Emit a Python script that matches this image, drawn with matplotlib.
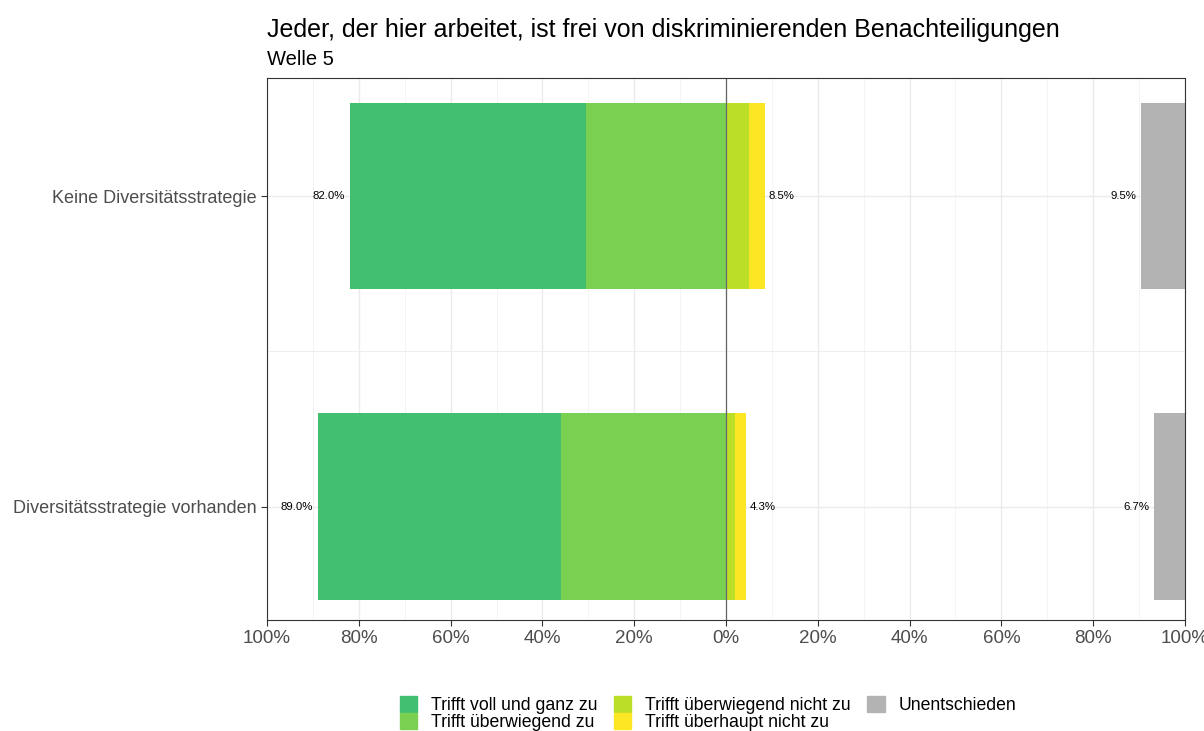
import matplotlib.pyplot as plt
from matplotlib.patches import Patch

plt.rcParams['font.family'] = ['Liberation Sans', 'DejaVu Sans']

# data (percent)
groups = ["Diversitätsstrategie vorhanden", "Keine Diversitätsstrategie"]
voll_zu = [53.1, 51.5]
ueberw_zu = [35.9, 30.5]
ueberw_nicht = [2.0, 5.1]
gar_nicht = [2.3, 3.4]
unentschieden = [6.7, 9.5]
pos_total = [89.0, 82.0]
neg_total = [4.3, 8.5]

colors = {
    "voll": "#43BF71",
    "ueberw": "#7AD151",
    "ueberw_nicht": "#BBDF27",
    "gar_nicht": "#FDE725",
    "neutral": "#B3B3B3",
}

fig = plt.figure(figsize=(12.04, 7.31), dpi=100)
ax = fig.add_axes([0.2218, 0.1518, 0.7624, 0.7415])

y = [1, 2]
h = 0.6
for i, yy in enumerate(y):
    # agreeing side goes left
    ax.barh(yy, -ueberw_zu[i], height=h, color=colors["ueberw"], zorder=2)
    ax.barh(yy, -voll_zu[i], left=-ueberw_zu[i], height=h, color=colors["voll"], zorder=2)
    # disagreeing side goes right
    ax.barh(yy, ueberw_nicht[i], height=h, color=colors["ueberw_nicht"], zorder=2)
    ax.barh(yy, gar_nicht[i], left=ueberw_nicht[i], height=h, color=colors["gar_nicht"], zorder=2)
    # undecided at the right edge
    ax.barh(yy, unentschieden[i], left=100 - unentschieden[i], height=h,
            color=colors["neutral"], zorder=2)

    ax.text(-pos_total[i] - 1.0, yy, f"{pos_total[i]:.1f}%", ha="right", va="center",
            fontsize=8.2, color="black", zorder=3)
    ax.text(neg_total[i] + 0.8, yy, f"{neg_total[i]:.1f}%", ha="left", va="center",
            fontsize=8.2, color="black", zorder=3)
    ax.text(100 - unentschieden[i] - 1.0, yy, f"{unentschieden[i]:.1f}%", ha="right",
            va="center", fontsize=8.2, color="black", zorder=3)

ax.axvline(0, color="#666666", linewidth=0.9, zorder=2.5)

ax.set_xlim(-100, 100)
ax.set_ylim(0.635, 2.38)
ticks = list(range(-100, 101, 20))
ax.set_xticks(ticks)
ax.set_xticklabels([f"{abs(t)}%" for t in ticks])
ax.set_xticks(list(range(-90, 100, 20)), minor=True)
ax.set_yticks(y)
ax.set_yticklabels(groups)

ax.grid(which="major", color="#EBEBEB", linewidth=1.0, zorder=0)
ax.grid(which="minor", axis="x", color="#F2F2F2", linewidth=0.6, zorder=0)
ax.set_axisbelow(True)
ax.tick_params(axis="x", which="major", labelsize=13.5, labelcolor="#4D4D4D",
               color="#333333", length=4, width=0.8)
ax.tick_params(axis="y", which="major", labelsize=13, labelcolor="#4D4D4D",
               color="#333333", length=4, width=0.8)
ax.tick_params(axis="both", which="minor", length=0)
ax.yaxis.set_minor_locator(plt.FixedLocator([1.5]))
ax.grid(which="minor", axis="y", color="#EBEBEB", linewidth=0.6, zorder=0)
for s in ax.spines.values():
    s.set_color("#333333")
    s.set_linewidth(0.8)

fig.text(0.2218, 0.959, "Jeder, der hier arbeitet, ist frei von diskriminierenden Benachteiligungen",
         fontsize=18, ha="left", va="center", color="black")
fig.text(0.2218, 0.919, "Welle 5", fontsize=14.5, ha="left", va="center", color="black")

handles = [
    Patch(color=colors["voll"], label="Trifft voll und ganz zu"),
    Patch(color=colors["ueberw"], label="Trifft überwiegend zu"),
    Patch(color=colors["ueberw_nicht"], label="Trifft überwiegend nicht zu"),
    Patch(color=colors["gar_nicht"], label="Trifft überhaupt nicht zu"),
    Patch(color=colors["neutral"], label="Unentschieden"),
]
fig.legend(handles=handles, ncol=3, loc="center", bbox_to_anchor=(0.588, 0.024),
           frameon=False, fontsize=12.7, handlelength=1.0, handleheight=1.0,
           handletextpad=0.8, columnspacing=0.9, labelspacing=-0.05)

fig.savefig("out.png", dpi=100)
